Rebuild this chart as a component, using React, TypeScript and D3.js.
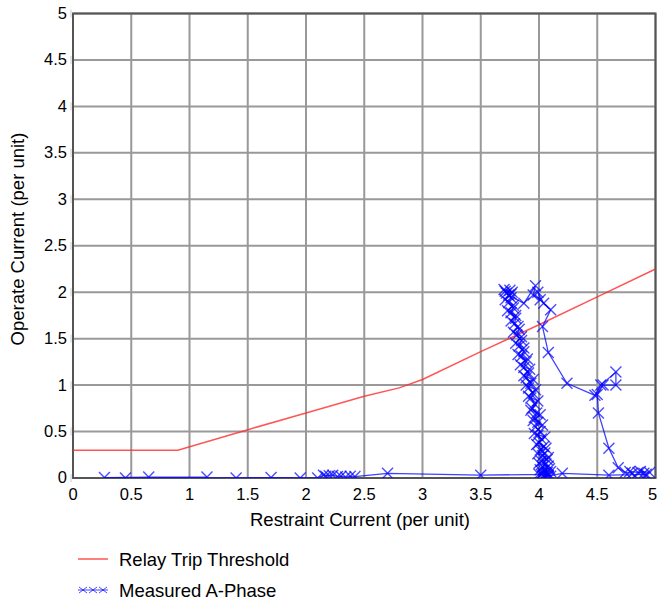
import React from "react";
import * as d3 from "d3";

const xTicks = [0, 0.5, 1, 1.5, 2, 2.5, 3, 3.5, 4, 4.5, 5];
const yTicks = [0, 0.5, 1, 1.5, 2, 2.5, 3, 3.5, 4, 4.5, 5];
const xTickLabels = ["0", "0.5", "1", "1.5", "2", "2.5", "3", "3.5", "4", "4.5", "5"];
const yTickLabels = ["0", "0.5", "1", "1.5", "2", "2.5", "3", "3.5", "4", "4.5", "5"];

const thresholdX = [0, 0.9, 1.5, 2.0, 2.5, 2.8, 3.0, 3.5, 4.0, 4.5, 5.0];
const thresholdY = [0.3, 0.3, 0.52, 0.7, 0.88, 0.97, 1.06, 1.36, 1.65, 1.95, 2.25];

const phaseX = [
  0.27, 0.65, 1.15, 0.45, 1.4, 1.7, 1.95, 2.1, 2.15, 2.2, 2.17, 2.23, 2.27, 2.3, 2.34, 2.38, 2.42, 2.7, 3.5, 4.02,
  4.05, 4.08, 4.03, 4.07, 4.04, 4.09, 4.03, 4.06, 4.02, 4.07, 4.03, 4.05, 4.01, 4.04, 4.0, 4.02, 3.99, 4.01, 3.97, 3.99,
  3.96, 3.98, 3.94, 3.96, 3.93, 3.95, 3.91, 3.93, 3.89, 3.91, 3.87, 3.89, 3.85, 3.87, 3.83, 3.85, 3.81, 3.83, 3.79, 3.8,
  3.76, 3.78, 3.74, 3.76, 3.72, 3.75, 3.71, 3.74,
  3.87, 3.97, 3.95, 4.01, 3.99, 4.04, 4.1, 4.03, 4.08, 4.24, 4.48, 4.53, 4.66, 4.66, 4.55, 4.5, 4.51, 4.6, 4.68,
  4.74, 4.8, 4.78, 4.85, 4.9, 4.87, 4.95, 4.92,
  4.6, 4.2, 4.08,
  4.1, 4.0, 4.1, 4.01, 4.08, 4.0, 4.08, 3.99, 4.06, 3.98, 4.05, 3.96, 4.03, 3.95, 4.01, 3.93, 3.99, 3.91, 3.97, 3.89,
  3.95, 3.87, 3.92, 3.84, 3.9, 3.82, 3.87, 3.8, 3.85, 3.78, 3.82, 3.76, 3.8, 3.73, 3.78, 3.71, 3.76, 3.7, 3.77,
];
const phaseY = [
  0.005, 0.01, 0.01, 0.0, 0.0, 0.005, 0.0, 0.0, 0.03, 0.025, 0.02, 0.03, 0.015, 0.02, 0.01, 0.02, 0.015, 0.05, 0.03, 0.04,
  0.01, 0.03, 0.05, 0.06, 0.08, 0.1, 0.12, 0.15, 0.18, 0.2, 0.24, 0.27, 0.3, 0.34, 0.38, 0.42, 0.46, 0.5, 0.55, 0.6,
  0.65, 0.7, 0.75, 0.8, 0.86, 0.91, 0.97, 1.02, 1.08, 1.13, 1.19, 1.25, 1.31, 1.36, 1.42, 1.48, 1.54, 1.6, 1.66, 1.72,
  1.78, 1.83, 1.89, 1.94, 1.99, 2.02, 2.01, 1.97,
  1.88, 2.07, 1.97, 1.92, 2.0, 1.88, 1.81, 1.63, 1.35, 1.02, 0.89, 1.0, 1.14, 1.0, 1.0, 0.9, 0.7, 0.32, 0.11,
  0.06, 0.05, 0.07, 0.06, 0.05, 0.07, 0.06, 0.04,
  0.03, 0.05, 0.02,
  0.02, 0.04, 0.07, 0.09, 0.13, 0.16, 0.22, 0.26, 0.32, 0.36, 0.44, 0.48, 0.57, 0.62, 0.68, 0.73, 0.83, 0.88, 0.95, 1.0,
  1.06, 1.1, 1.17, 1.22, 1.28, 1.33, 1.4, 1.45, 1.52, 1.57, 1.63, 1.69, 1.75, 1.8, 1.86, 1.92, 1.98, 2.03, 2.0,
];

const W = 657;
const H = 603;
const L = 73;
const R = 655.5;
const T = 13.5;
const B = 478;

const FONT = "Arial, 'Liberation Sans', sans-serif";

export default function App() {
  const x = d3.scaleLinear().domain([0, 5]).range([L, R]);
  const y = d3.scaleLinear().domain([0, 5]).range([B, T]);

  const thr = thresholdX.map((v, i) => [v, thresholdY[i]] as [number, number]);
  const pts = phaseX.map((v, i) => [v, phaseY[i]] as [number, number]);
  const line = d3
    .line<[number, number]>()
    .x((d) => x(d[0]))
    .y((d) => y(d[1]));

  const cross = "M-5.5,-5.5L5.5,5.5M-5.5,5.5L5.5,-5.5";

  return (
    <svg width={W} height={H} style={{ position: "absolute", left: 0, top: 0, background: "#fff" }}>
      <defs>
        <clipPath id="plotClip">
          <rect x={L} y={T} width={R - L} height={B - T} />
        </clipPath>
      </defs>
      <rect x={0} y={0} width={W} height={H} fill="#fff" />
      {xTicks.map((t) => (
        <line key={"gx" + t} x1={x(t)} x2={x(t)} y1={T} y2={B} stroke="#999" strokeWidth={2} />
      ))}
      {yTicks.map((t) => (
        <line key={"gy" + t} x1={L} x2={R} y1={y(t)} y2={y(t)} stroke="#999" strokeWidth={2} />
      ))}
      {yTicks.map((t) => (
        <line key={"ty" + t} x1={71} x2={71} y1={y(t) - 4} y2={y(t) + 4} stroke="#ccc" strokeWidth={1} />
      ))}
      <rect x={L} y={T} width={R - L} height={B - T} fill="none" stroke="#555" strokeWidth={2} />

      <g clipPath="url(#plotClip)">
        <path d={line(thr) || ""} fill="none" stroke="#ff2a2a" strokeOpacity={0.8} strokeWidth={1.5} />
        <path d={line(pts) || ""} fill="none" stroke="#0000ff" strokeOpacity={0.75} strokeWidth={1.3} />
        {pts.map((p, i) => (
          <path
            key={"m" + i}
            d={cross}
            transform={`translate(${x(p[0])},${y(p[1])})`}
            fill="none"
            stroke="#0000ff"
            strokeOpacity={0.7}
            strokeWidth={1.4}
          />
        ))}
      </g>

      {yTicks.map((t, i) => (
        <text
          key={"ly" + t}
          x={67}
          y={y(t)}
          dy="0.33em"
          textAnchor="end"
          fontFamily={FONT}
          fontSize={16.5}
          fill="#000"
        >
          {yTickLabels[i]}
        </text>
      ))}
      {xTicks.map((t, i) => (
        <text
          key={"lx" + t}
          x={i === xTicks.length - 1 ? x(t) - 3 : x(t)}
          y={499.5}
          textAnchor="middle"
          fontFamily={FONT}
          fontSize={16.5}
          fill="#000"
        >
          {xTickLabels[i]}
        </text>
      ))}

      <text x={360} y={526} textAnchor="middle" fontFamily={FONT} fontSize={18.5} fill="#000">
        Restraint Current (per unit)
      </text>
      <text
        transform={`translate(24,239) rotate(-90)`}
        textAnchor="middle"
        fontFamily={FONT}
        fontSize={18.5}
        fill="#000"
      >
        Operate Current (per unit)
      </text>

      <line x1={78} x2={108} y1={559} y2={559} stroke="#ff2a2a" strokeOpacity={0.8} strokeWidth={1.5} />
      <text x={119} y={565.5} fontFamily={FONT} fontSize={18.5} fill="#000">
        Relay Trip Threshold
      </text>
      <line x1={78} x2={108} y1={590} y2={590} stroke="#0000ff" strokeOpacity={0.75} strokeWidth={1} />
      {[83, 93, 103].map((cx) => (
        <path
          key={"lg" + cx}
          d="M-4,-3L4,3M-4,3L4,-3"
          transform={`translate(${cx},590)`}
          fill="none"
          stroke="#0000ff"
          strokeOpacity={0.7}
          strokeWidth={1}
        />
      ))}
      <text x={119} y={596.5} fontFamily={FONT} fontSize={18.5} fill="#000">
        Measured A-Phase
      </text>
    </svg>
  );
}
